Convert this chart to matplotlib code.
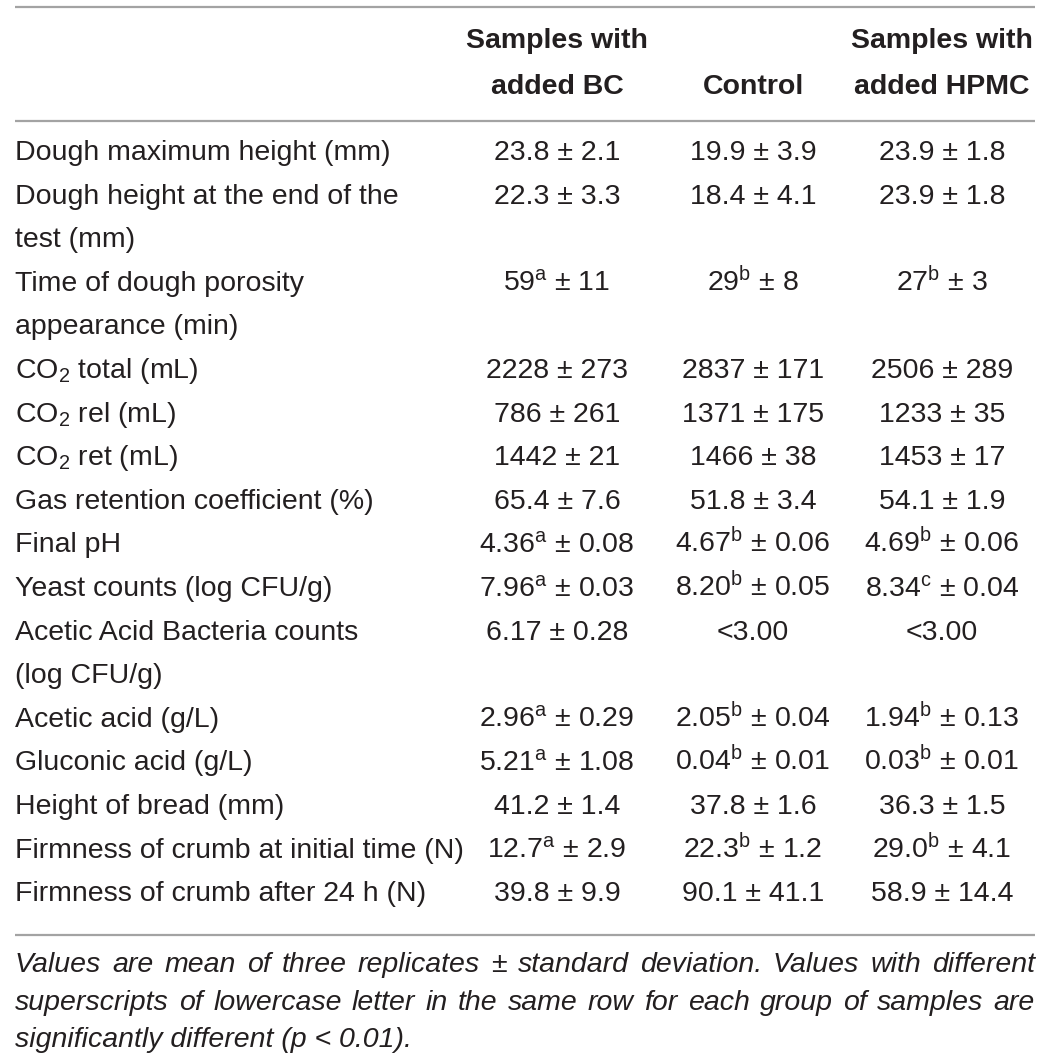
import matplotlib
matplotlib.use("Agg")
import matplotlib.pyplot as plt

# table content
headers = ["Samples with\nadded BC", "Control", "Samples with\nadded HPMC"]
labels = [
    "Dough maximum height (mm)",
    "Dough height at the end of the\ntest (mm)",
    "Time of dough porosity\nappearance (min)",
    "CO$_2$ total (mL)",
    "CO$_2$ rel (mL)",
    "CO$_2$ ret (mL)",
    "Gas retention coefficient (%)",
    "Final pH",
    "Yeast counts (log CFU/g)",
    "Acetic Acid Bacteria counts\n(log CFU/g)",
    "Acetic acid (g/L)",
    "Gluconic acid (g/L)",
    "Height of bread (mm)",
    "Firmness of crumb at initial time (N)",
    "Firmness of crumb after 24 h (N)",
]
bc = ["23.8 ± 2.1", "22.3 ± 3.3", "59$^{a}$ ± 11", "2228 ± 273", "786 ± 261",
      "1442 ± 21", "65.4 ± 7.6", "4.36$^{a}$ ± 0.08", "7.96$^{a}$ ± 0.03",
      "6.17 ± 0.28", "2.96$^{a}$ ± 0.29", "5.21$^{a}$ ± 1.08", "41.2 ± 1.4",
      "12.7$^{a}$ ± 2.9", "39.8 ± 9.9"]
control = ["19.9 ± 3.9", "18.4 ± 4.1", "29$^{b}$ ± 8", "2837 ± 171", "1371 ± 175",
           "1466 ± 38", "51.8 ± 3.4", "4.67$^{b}$ ± 0.06", "8.20$^{b}$ ± 0.05",
           "<3.00", "2.05$^{b}$ ± 0.04", "0.04$^{b}$ ± 0.01", "37.8 ± 1.6",
           "22.3$^{b}$ ± 1.2", "90.1 ± 41.1"]
hpmc = ["23.9 ± 1.8", "23.9 ± 1.8", "27$^{b}$ ± 3", "2506 ± 289", "1233 ± 35",
        "1453 ± 17", "54.1 ± 1.9", "4.69$^{b}$ ± 0.06", "8.34$^{c}$ ± 0.04",
        "<3.00", "1.94$^{b}$ ± 0.13", "0.03$^{b}$ ± 0.01", "36.3 ± 1.5",
        "29.0$^{b}$ ± 4.1", "58.9 ± 14.4"]
footnote = [
    "Values are mean of three replicates ± standard deviation. Values with different",
    "superscripts of lowercase letter in the same row for each group of samples are",
    "significantly different (p < 0.01).",
]

plt.rcParams['font.family'] = ['Liberation Sans', 'DejaVu Sans']
plt.rcParams['mathtext.fontset'] = 'custom'
plt.rcParams['mathtext.rm'] = 'Liberation Sans'
plt.rcParams['mathtext.it'] = 'Liberation Sans:italic'
plt.rcParams['mathtext.default'] = 'regular'

W, H = 1039, 1056
fig = plt.figure(figsize=(W / 100, H / 100), dpi=100)
ax = fig.add_axes([0, 0, 1, 1])
ax.set_xlim(0, W)
ax.set_ylim(H, 0)
ax.axis('off')

txt = '#231f20'
fs = 20.5
col_x = [557, 753, 942]
left = 15
step = 43.6
first = 150
dy = 10  # center -> baseline

# rules
for y in (7, 121, 935):
    ax.plot([left, W - 4], [y, y], color='#a3a3a3', lw=1.6, solid_capstyle='butt')

# header
for x, h in zip(col_x, headers):
    lines = h.split("\n")
    ys = [38, 84] if len(lines) == 2 else [84]
    for yy, ln in zip(ys, lines):
        ax.text(x, yy + dy, ln, ha='center', va='baseline', fontsize=fs,
                fontweight='bold', color=txt)

# body
y = first
for lab, a, b, c in zip(labels, bc, control, hpmc):
    lines = lab.split("\n")
    for i, ln in enumerate(lines):
        ax.text(left, y + i * step + dy, ln, ha='left', va='baseline',
                fontsize=fs, color=txt)
    for x, v in zip(col_x, (a, b, c)):
        ax.text(x, y + dy, v, ha='center', va='baseline', fontsize=fs, color=txt)
    y += step * len(lines)

# footnote, justified
renderer = fig.canvas.get_renderer()
foot_y = [962, 1000, 1037]
right = W - 4
for k, (ln, fy) in enumerate(zip(footnote, foot_y)):
    if k == len(footnote) - 1:
        ax.text(left, fy + dy, ln, ha='left', va='baseline', fontsize=fs,
                style='italic', color=txt)
        continue
    words = ln.split(" ")
    objs = [ax.text(0, fy + dy, w, ha='left', va='baseline', fontsize=fs,
                    style='italic', color=txt) for w in words]
    widths = [o.get_window_extent(renderer).width for o in objs]
    gap = (right - left - sum(widths)) / (len(words) - 1)
    x = left
    for o, w in zip(objs, widths):
        o.set_x(x)
        x += w + gap

fig.savefig("out.png", dpi=100)
